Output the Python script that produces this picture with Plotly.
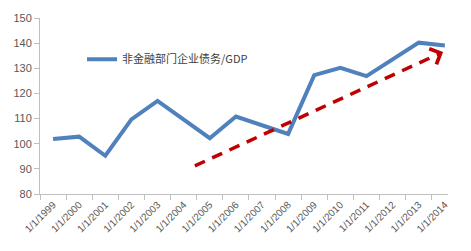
import plotly.graph_objects as go

categories = ["1/1/1999", "1/1/2000", "1/1/2001", "1/1/2002", "1/1/2003", "1/1/2004",
              "1/1/2005", "1/1/2006", "1/1/2007", "1/1/2008", "1/1/2009", "1/1/2010",
              "1/1/2011", "1/1/2012", "1/1/2013", "1/1/2014"]
debt_gdp = [101.9, 102.8, 95.2, 109.7, 117.0, 109.7, 102.2, 110.8, 107.5, 103.9,
            127.3, 130.2, 126.9, 133.5, 140.2, 139.1]
series_name = "非金融部门企业债务/GDP"

# trend arrow (category index position, value)
trend_x = [5.43, 14.93]
trend_y = [91.2, 136.5]

y_ticks = [80, 90, 100, 110, 120, 130, 140, 150]

BLUE = "#4F81BD"
RED = "#C00000"
AXIS = "#BFBFBF"
TXT = "#595959"

fig = go.Figure()
fig.add_trace(go.Scatter(
    x=categories, y=debt_gdp, mode="lines", name=series_name,
    line=dict(color=BLUE, width=4), showlegend=True,
))

slope = (trend_y[1] - trend_y[0]) / (trend_x[1] - trend_x[0])
# dashed trend line
fig.add_shape(type="line", xref="x", yref="y",
              x0=trend_x[0], y0=trend_y[0], x1=trend_x[1] - 0.25,
              y1=trend_y[1] - 0.25 * slope,
              line=dict(color=RED, width=3.5, dash="11px,8px"))
# arrow head
fig.add_annotation(xref="x", yref="y", axref="x", ayref="y",
                   x=trend_x[1], y=trend_y[1],
                   ax=trend_x[1] - 0.3, ay=trend_y[1] - 0.3 * slope,
                   text="", showarrow=True, arrowhead=4, arrowsize=1.1,
                   arrowwidth=3, arrowcolor=RED)

fig.update_layout(
    width=471, height=251,
    margin=dict(l=40, r=23, t=13, b=57),
    paper_bgcolor="white", plot_bgcolor="white",
    font=dict(family="Liberation Sans, Arial, sans-serif", size=10.5, color=TXT),
    legend=dict(x=0.103, y=0.766, xanchor="left", yanchor="middle",
                bgcolor="rgba(0,0,0,0)", borderwidth=0,
                font=dict(family="Noto Sans CJK SC, sans-serif", size=11, color="#404040"),
                itemwidth=30),
    showlegend=True,
)
fig.update_xaxes(
    type="category", range=[-0.5, 15.12],
    showline=True, linecolor=AXIS, linewidth=1,
    ticks="outside", ticklen=5, tickcolor=AXIS, tickson="boundaries",
    tickangle=-45, showgrid=False, zeroline=False,
    tickfont=dict(size=10, color=TXT),
)
fig.update_yaxes(
    range=[80, 150], tickvals=y_ticks,
    showline=True, linecolor=AXIS, linewidth=1,
    ticks="outside", ticklen=5, tickcolor=AXIS,
    showgrid=False, zeroline=False,
    tickfont=dict(size=11, color=TXT),
)

fig.write_html("out.html")
